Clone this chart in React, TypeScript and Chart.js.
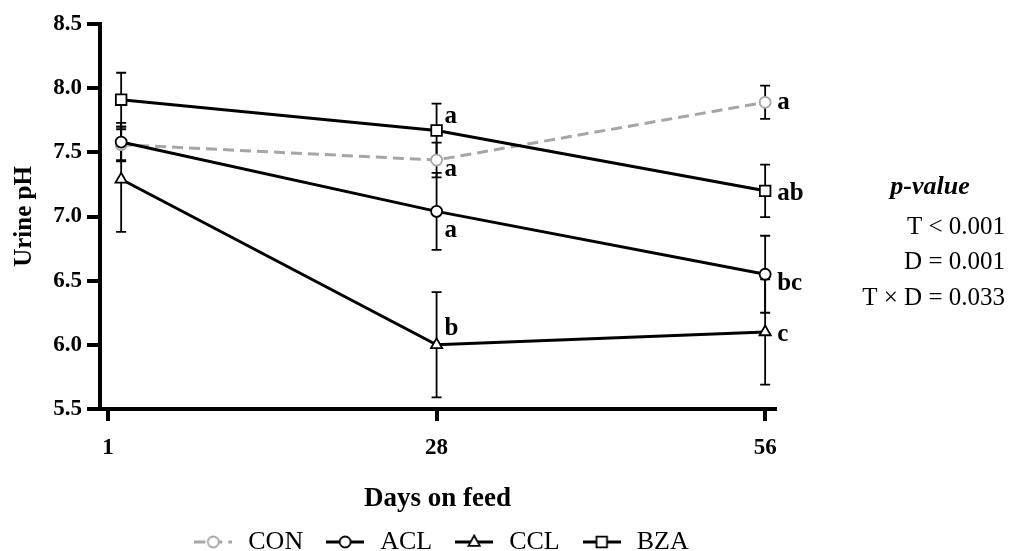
import React, { useEffect, useRef } from "react";
import { Chart, registerables } from "chart.js";

Chart.register(...registerables);

// ---- data ----
const dayLabels = ["1", "28", "56"];
const tickPositions = [0, 1, 2];
const dayPositions = [0.04, 1, 2];

const seriesNames = ["CON", "ACL", "CCL", "BZA"];

const conMean = [7.56, 7.44, 7.89];
const conErr = [0.12, 0.135, 0.13];
const aclMean = [7.58, 7.04, 6.55];
const aclErr = [0.15, 0.3, 0.3];
const cclMean = [7.29, 6.0, 6.1];
const cclErr = [0.41, 0.41, 0.41];
const bzaMean = [7.91, 7.67, 7.2];
const bzaErr = [0.21, 0.21, 0.205];

const conLetters = ["", "a", "a"];
const aclLetters = ["", "a", "bc"];
const cclLetters = ["", "b", "c"];
const bzaLetters = ["", "a", "ab"];

const yMin = 5.5;
const yMax = 8.5;
const yStep = 0.5;

const pValueTitle = "p-value";
const pValueLines = ["T < 0.001", "D = 0.001", "T × D = 0.033"];

// ---- styles ----
const FONT = "'Liberation Serif', 'Times New Roman', serif";
const GRAY = "#a6a6a6";

const letterOffsets = [
  // per series, per day [dx, dy]
  [[0, 0], [8, 10], [12, 0]],
  [[0, 0], [8, 19], [12, 9]],
  [[0, 0], [8, -16], [12, 3]],
  [[0, 0], [8, -14], [12, 3]],
];

const seriesStyles = [
  { color: GRAY, dash: [11, 6], point: "circle", radius: 5.5 },
  { color: "#000", dash: [], point: "circle", radius: 5.5 },
  { color: "#000", dash: [], point: "triangle", radius: 6.5 },
  { color: "#000", dash: [], point: "rect", radius: 7.5 },
];

const means = [conMean, aclMean, cclMean, bzaMean];
const errs = [conErr, aclErr, cclErr, bzaErr];
const letters = [conLetters, aclLetters, cclLetters, bzaLetters];

function makeLegendImage(style: any): HTMLCanvasElement {
  const c = document.createElement("canvas");
  c.width = 38;
  c.height = 16;
  const ctx = c.getContext("2d")!;
  ctx.strokeStyle = style.color;
  ctx.lineWidth = 3;
  ctx.setLineDash(style.dash);
  ctx.beginPath();
  ctx.moveTo(0, 8);
  ctx.lineTo(38, 8);
  ctx.stroke();
  ctx.setLineDash([]);
  ctx.lineWidth = 1.8;
  ctx.fillStyle = "#fff";
  ctx.beginPath();
  const cx = 19, cy = 8, r = style.radius;
  if (style.point === "circle") {
    ctx.arc(cx, cy, r, 0, Math.PI * 2);
  } else if (style.point === "triangle") {
    ctx.moveTo(cx, cy - r);
    ctx.lineTo(cx + r * 0.87, cy + r * 0.6);
    ctx.lineTo(cx - r * 0.87, cy + r * 0.6);
    ctx.closePath();
  } else {
    const s = r * Math.SQRT1_2;
    ctx.rect(cx - s, cy - s, 2 * s, 2 * s);
  }
  ctx.fill();
  ctx.stroke();
  return c;
}

const errorBarPlugin = {
  id: "errorBars",
  beforeDatasetsDraw(chart: any) {
    const { ctx, scales } = chart;
    const xs = scales.x, ys = scales.y;
    ctx.save();
    ctx.strokeStyle = "#000";
    ctx.lineWidth = 1.8;
    means.forEach((m, si) => {
      m.forEach((v, i) => {
        const px = xs.getPixelForValue(dayPositions[i]);
        const top = ys.getPixelForValue(v + errs[si][i]);
        const bot = ys.getPixelForValue(v - errs[si][i]);
        ctx.beginPath();
        ctx.moveTo(px, top);
        ctx.lineTo(px, bot);
        ctx.moveTo(px - 5, top);
        ctx.lineTo(px + 5, top);
        ctx.moveTo(px - 5, bot);
        ctx.lineTo(px + 5, bot);
        ctx.stroke();
      });
    });
    ctx.restore();
  },
};

const letterPlugin = {
  id: "letters",
  afterDatasetsDraw(chart: any) {
    const { ctx, scales } = chart;
    ctx.save();
    ctx.fillStyle = "#000";
    ctx.font = `bold 25px ${FONT}`;
    ctx.textAlign = "left";
    ctx.textBaseline = "middle";
    letters.forEach((arr, si) => {
      arr.forEach((t, i) => {
        if (!t) return;
        const px = scales.x.getPixelForValue(dayPositions[i]);
        const py = scales.y.getPixelForValue(means[si][i]);
        const [dx, dy] = letterOffsets[si][i];
        ctx.fillText(t, px + dx, py + dy);
      });
    });
    ctx.restore();
  },
};

const pValuePlugin = {
  id: "pvalues",
  afterDraw(chart: any) {
    const { ctx, width } = chart;
    ctx.save();
    ctx.fillStyle = "#000";
    ctx.textBaseline = "middle";
    ctx.textAlign = "center";
    ctx.font = `italic bold 26px ${FONT}`;
    ctx.fillText(pValueTitle, width - 79, 187);
    ctx.textAlign = "right";
    ctx.font = `25px ${FONT}`;
    const ys = [227, 262, 298];
    pValueLines.forEach((l, i) => ctx.fillText(l, width - 4, ys[i]));
    ctx.restore();
  },
};

export default function App() {
  const ref = useRef<HTMLCanvasElement | null>(null);

  useEffect(() => {
    document.body.style.margin = "0";
    const canvas = ref.current!;
    const legendImages = seriesStyles.map(makeLegendImage);

    const datasets = seriesNames.map((name, si) => ({
      label: name,
      data: means[si].map((v, i) => ({ x: dayPositions[i], y: v })),
      borderColor: seriesStyles[si].color,
      borderWidth: 3,
      borderDash: seriesStyles[si].dash,
      pointStyle: seriesStyles[si].point,
      pointRadius: seriesStyles[si].radius,
      pointBorderWidth: 1.8,
      pointBorderColor: seriesStyles[si].color,
      pointBackgroundColor: "#fff",
      fill: false,
      tension: 0,
      order: si === 0 ? 10 : 0,
    }));

    const chart = new Chart(canvas, {
      type: "line",
      data: { datasets },
      options: {
        responsive: false,
        animation: false,
        layout: { padding: { top: 24, left: 0, right: 129, bottom: 0 } },
        plugins: {
          tooltip: { enabled: false },
          legend: {
            position: "bottom",
            maxHeight: 42,
            labels: {
              usePointStyle: true,
              pointStyleWidth: 44,
              padding: 20,
              color: "#000",
              font: { family: FONT, size: 26 },
              generateLabels: () =>
                seriesNames.map((n, i) => ({
                  text: n,
                  fillStyle: "transparent",
                  strokeStyle: "transparent",
                  lineWidth: 0,
                  pointStyle: legendImages[i],
                  hidden: false,
                  datasetIndex: i,
                  fontColor: "#000",
                })),
            },
          },
        },
        scales: {
          x: {
            type: "linear",
            min: -0.0244,
            max: 2.03,
            afterBuildTicks: (s: any) => {
              s.ticks = tickPositions.map((v) => ({ value: v }));
            },
            afterFit: (s: any) => {
              s.height = 100;
            },
            grid: {
              display: true,
              drawOnChartArea: false,
              drawTicks: true,
              tickLength: 12,
              lineWidth: 4,
              color: "#000",
            },
            border: { display: true, width: 4, color: "#000" },
            ticks: {
              autoSkip: false,
              maxRotation: 0,
              padding: 13,
              color: "#000",
              font: { family: FONT, size: 23, weight: "bold" },
              callback: (v: any) => dayLabels[tickPositions.indexOf(Number(v))] ?? "",
            },
            title: {
              display: true,
              text: "Days on feed",
              color: "#000",
              font: { family: FONT, size: 27, weight: "bold", lineHeight: 1 },
              padding: { top: 0, bottom: -4 },
            },
          },
          y: {
            min: yMin,
            max: yMax,
            afterFit: (s: any) => {
              s.width = 100;
            },
            grid: {
              display: true,
              drawOnChartArea: false,
              drawTicks: true,
              tickLength: 13,
              lineWidth: 4,
              color: "#000",
            },
            border: { display: true, width: 4, color: "#000" },
            ticks: {
              stepSize: yStep,
              padding: 5,
              color: "#000",
              font: { family: FONT, size: 23, weight: "bold" },
              callback: (v: any) => Number(v).toFixed(1),
            },
            title: {
              display: true,
              text: "Urine pH",
              color: "#000",
              font: { family: FONT, size: 25, weight: "bold" },
              padding: { top: 10, bottom: 0 },
            },
          },
          yRight: {
            position: "right",
            display: true,
            grid: { display: false },
            border: { display: false },
            ticks: { display: false },
            afterFit: (s: any) => {
              s.width = 105;
            },
          },
        },
      } as any,
      plugins: [errorBarPlugin, letterPlugin, pValuePlugin],
    });
    return () => chart.destroy();
  }, []);

  return (
    <div style={{ width: 1009, height: 551 }}>
      <canvas ref={ref} width={1009} height={551} />
    </div>
  );
}
